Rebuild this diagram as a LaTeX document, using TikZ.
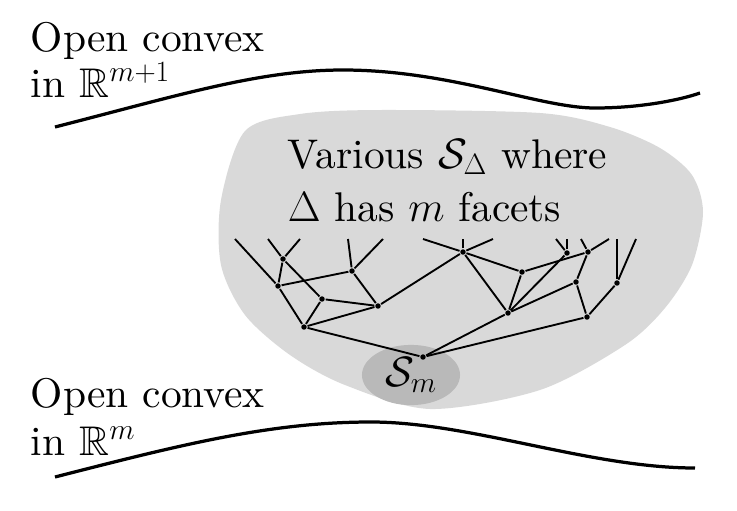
\documentclass[tikz,border=0pt]{standalone}
\usepackage{amssymb}
\usepackage{fontspec}
\setmainfont{lmroman10-regular.otf}[ItalicFont=lmroman10-italic.otf,BoldFont=lmroman10-bold.otf]
\usetikzlibrary{shapes.geometric}
\newcommand\bigtext{\fontsize{24.3}{26.4}\selectfont\lineskiplimit-50pt\relax}
\begin{document}
\begin{tikzpicture}[x=0.0206cm,y=-0.0206cm,line width=1.1pt,
  vert/.style={circle,fill,inner sep=0pt,minimum size=3.2pt},
  lbl/.style={anchor=base west,inner sep=0pt,align=left,font=\bigtext},
  wave/.style={line width=1.9pt}]
\useasboundingbox (0,0) rectangle (737,510);
% the region of all S_Delta
\fill[gray!30] plot[smooth cycle] coordinates {(245,131) (300,114) (380,110) (540,113)
  (610,127) (660,148) (692,175) (703,212) (692,265) (665,308) (625,345) (540,390)
  (430,409) (345,385) (290,355) (245,315) (221,265) (221,200)};
\node[ellipse,fill=gray!55,minimum width=2.02cm,minimum height=1.24cm,inner sep=0pt,
  font=\bigtext] (Sm) at (411,375) {$\mathcal{S}_m$};
\node[lbl] (various) at (287,221) {Various $\mathcal{S}_\Delta$ where\\[4.3pt] $\Delta$ has $m$ facets};
% outer convex sets
\node[lbl] (upper) at (30,97) {Open convex\\ in $\mathbb{R}^{m+1}$};
\node[lbl] (lower) at (30,455) {Open convex\\[1.2pt] in $\mathbb{R}^{m}$};
\draw[wave] (55,127) .. controls (180,95) and (260,70) .. (343,70)
  .. controls (450,70) and (540,108) .. (595,108)
  .. controls (640,108) and (680,100) .. (700,93);
\draw[wave] (55,477) .. controls (180,445) and (270,422) .. (371,422)
  .. controls (470,422) and (590,468) .. (695,468);
% the tree
\node[vert] (root) at (423,357) {};
\node[vert] (a1) at (278,286) {};
\node[vert] (a2) at (283,259) {};
\node[vert] (a3) at (322,299) {};
\node[vert] (a4) at (352,271) {};
\node[vert] (a5) at (378,306) {};
\node[vert] (a6) at (304,327) {};
\node[vert] (b1) at (463,252) {};
\node[vert] (b2) at (522,272) {};
\node[vert] (b3) at (508,313) {};
\node[vert] (b4) at (567,253) {};
\node[vert] (b5) at (588,252) {};
\node[vert] (b6) at (576,282) {};
\node[vert] (b7) at (587,317) {};
\node[vert] (b8) at (617,283) {};
\foreach \v/\x [count=\i] in {a1/235,a2/268,a2/300,a4/348,a4/383,b1/423,b1/463,b1/493,
    b4/556,b4/567,b5/581,b5/609,b8/617,b8/636}
  {\coordinate (leaf\i) at (\x,239);
   \draw (\v) -- (leaf\i);}
\foreach \p/\q in {a1/a2,a1/a4,a1/a6,a2/a3,a3/a5,a3/a6,a4/a5,a5/a6,a5/b1,a6/root,
    b1/b2,b1/b3,b2/b3,b2/b5,b3/b4,b3/b6,b3/root,b5/b6,b6/b7,b7/root,b7/b8}
  \draw (\p) -- (\q);
\end{tikzpicture}
\end{document}
